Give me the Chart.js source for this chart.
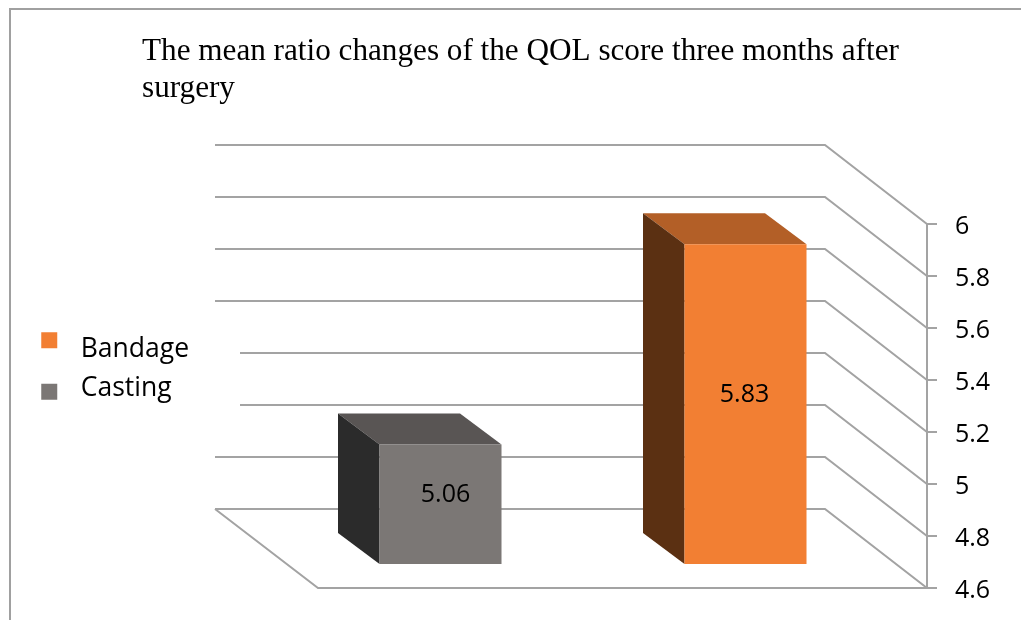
<!DOCTYPE html>
<html>
<head>
<meta charset="utf-8">
<title>QOL score</title>
<script src="https://cdn.jsdelivr.net/npm/chart.js@4"></script>
<style>
  html, body { margin: 0; padding: 0; background: #fff; }
  canvas { display: block; }
</style>
</head>
<body>
<canvas id="chart" width="1021" height="620"></canvas>
<script>
const titleLines = ['The mean ratio changes of the QOL score three months after', 'surgery'];
const categories = ['Casting', 'Bandage'];
const seriesNames = ['Bandage', 'Casting'];
const bandageValues = [null, 5.83];
const castingValues = [5.06, null];
const yTicks = [4.6, 4.8, 5, 5.2, 5.4, 5.6, 5.8, 6];
const shortGridTicks = [5, 5.2]; // these two back lines stop short of the others in the original

const GRID = '#a3a3a3';
const ORANGE = { front: '#f27f33', top: '#b35f27', side: '#5b3012' };
const GRAY = { front: '#7b7775', top: '#595554', side: '#2b2b2b' };
const TEXT_FONT = '"Open Sans", sans-serif';

// fake 3D: everything below is offsets in px from what the scales give
const PLOT_H = 364;
const AXIS_DX = 29;        // floor front edge sits right of the category scale
const WALL = { dx: -102, dy: -79, backLeft: 215, shortLeft: 240 };
const BAR = { dx: -41.5, dy: -31, drop: 24 };
const LABEL_DX = [-1, 5];  // value labels are not quite centred, per dataset

// legend swatches are not centred on their text in the original
function swatch(color, dx, dy) {
    const c = document.createElement('canvas');
    c.width = 44; c.height = 44;
    const g = c.getContext('2d');
    g.fillStyle = color;
    g.fillRect(14 + dx, 14 + dy, 16, 16);
    return c;
}
const swatches = [swatch(ORANGE.front, -5, -9), swatch(GRAY.front, -5, 3)];

function poly(ctx, pts, fill) {
    ctx.beginPath();
    pts.forEach((p, i) => i ? ctx.lineTo(p[0], p[1]) : ctx.moveTo(p[0], p[1]));
    ctx.closePath();
    ctx.fillStyle = fill;
    ctx.fill();
}

const scene3d = {
    id: 'scene3d',
    afterLayout(chart) {
        chart.titleBlock.left = 142;
        // bottom has to move too or the legend wraps into a column that does not exist
        Object.assign(chart.legend, { left: 28, right: 280, top: 323, bottom: 500 });
        // tick labels sit a little under their tick marks
        chart.scales.y.getLabelItems().forEach(it => { it.textOffset += 2.5; });
    },
    beforeDraw(chart) {
        const ctx = chart.ctx;
        ctx.save();
        ctx.strokeStyle = '#a0a0a0';
        ctx.lineWidth = 2;
        ctx.beginPath();
        ctx.moveTo(10, 620);
        ctx.lineTo(10, 9);
        ctx.lineTo(1021, 9);
        ctx.stroke();
        ctx.restore();
    },
    beforeDatasetsDraw(chart) {
        const ctx = chart.ctx, y = chart.scales.y;
        const ax = chart.chartArea.right + AXIS_DX;
        const backX = ax + WALL.dx;
        ctx.save();
        ctx.strokeStyle = GRID;
        ctx.lineWidth = 2;
        ctx.lineJoin = 'miter';

        yTicks.forEach(v => {
            const py = y.getPixelForValue(v);
            const left = shortGridTicks.includes(v) ? WALL.shortLeft : WALL.backLeft;
            ctx.beginPath();
            ctx.moveTo(ax + 10, py);
            ctx.lineTo(ax, py);
            ctx.lineTo(backX, py + WALL.dy);
            ctx.lineTo(left, py + WALL.dy);
            ctx.stroke();
        });

        // axis line
        ctx.beginPath();
        ctx.moveTo(ax, y.getPixelForValue(yTicks[yTicks.length - 1]));
        ctx.lineTo(ax, y.getPixelForValue(yTicks[0]));
        ctx.stroke();

        // floor
        const py0 = y.getPixelForValue(yTicks[0]);
        ctx.beginPath();
        ctx.moveTo(WALL.backLeft, py0 + WALL.dy);
        ctx.lineTo(chart.chartArea.left + AXIS_DX + 1, py0);
        ctx.lineTo(ax, py0);
        ctx.stroke();
        ctx.restore();

        // bar sides, the fronts are the real bars
        const looks = [ORANGE, GRAY];
        chart.data.datasets.forEach((ds, i) => {
            chart.getDatasetMeta(i).data.forEach((el, k) => {
                if (ds.data[k] == null) return;
                const p = el.getProps(['x', 'y', 'base', 'width'], true);
                const l = p.x - p.width / 2, r = p.x + p.width / 2;
                poly(ctx, [[l, p.y], [r, p.y], [r + BAR.dx, p.y + BAR.dy], [l + BAR.dx, p.y + BAR.dy]], looks[i].top);
                poly(ctx, [[l, p.y], [l, p.base], [l + BAR.dx, p.base + BAR.dy], [l + BAR.dx, p.y + BAR.dy]], looks[i].side);
            });
        });
    },
    afterDatasetsDraw(chart) {
        const ctx = chart.ctx;
        ctx.save();
        ctx.fillStyle = '#000';
        ctx.font = '25px ' + TEXT_FONT;
        ctx.textAlign = 'center';
        ctx.textBaseline = 'middle';
        chart.data.datasets.forEach((ds, i) => {
            chart.getDatasetMeta(i).data.forEach((el, k) => {
                if (ds.data[k] == null) return;
                const p = el.getProps(['x', 'y', 'base'], true);
                ctx.fillText(ds.data[k].toFixed(2), p.x + LABEL_DX[i], (p.y + p.base) / 2 - 9.5);
            });
        });
        ctx.restore();
    }
};

new Chart(document.getElementById('chart'), {
    type: 'bar',
    data: {
        labels: categories,
        datasets: [
            { label: seriesNames[0], data: bandageValues, backgroundColor: ORANGE.front, yAxisID: 'yBar', grouped: false },
            { label: seriesNames[1], data: castingValues, backgroundColor: GRAY.front, yAxisID: 'yBar', grouped: false }
        ]
    },
    plugins: [scene3d],
    options: {
        responsive: false,
        animation: false,
        barPercentage: 122 / 305,
        categoryPercentage: 1,
        base: yTicks[0],
        layout: { padding: { left: 288, right: 0, top: 0, bottom: 32 } },
        scales: {
            x: { display: false },
            y: {
                type: 'linear',
                position: 'right',
                min: yTicks[0],
                max: yTicks[yTicks.length - 1],
                grid: { display: false, drawTicks: false },
                border: { display: false },
                afterBuildTicks: s => { s.ticks = yTicks.map(v => ({ value: v })); },
                afterFit: s => { s.width = 123; s.paddingTop = 0; s.paddingBottom = 0; },
                ticks: {
                    padding: 57,
                    color: '#000',
                    font: { family: TEXT_FONT, size: 25 },
                    callback: v => String(v)
                }
            },
            // same height as y, only slid down so the bars stand in the middle of the floor
            yBar: {
                type: 'linear',
                display: false,
                min: yTicks[0] - BAR.drop * (yTicks[yTicks.length - 1] - yTicks[0]) / PLOT_H,
                max: yTicks[yTicks.length - 1] - BAR.drop * (yTicks[yTicks.length - 1] - yTicks[0]) / PLOT_H
            }
        },
        plugins: {
            title: {
                display: true,
                text: titleLines,
                align: 'start',
                color: '#000',
                font: { family: '"Liberation Serif", serif', size: 31.2, weight: 'normal', lineHeight: 37 / 31.2 },
                padding: { top: 33.5, bottom: 116.5 }
            },
            legend: {
                position: 'chartArea',
                fullSize: false,
                align: 'start',
                labels: {
                    color: '#000',
                    font: { family: TEXT_FONT, size: 26.5 },
                    boxWidth: 26.5,
                    usePointStyle: true,
                    padding: 13,
                    generateLabels: chart => chart.data.datasets.map((ds, i) => ({
                        text: ds.label,
                        fontColor: '#000',
                        pointStyle: swatches[i],
                        lineWidth: 0,
                        strokeStyle: 'transparent',
                        fillStyle: ds.backgroundColor,
                        datasetIndex: i
                    }))
                }
            },
            tooltip: { enabled: false }
        }
    }
});
</script>
</body>
</html>
